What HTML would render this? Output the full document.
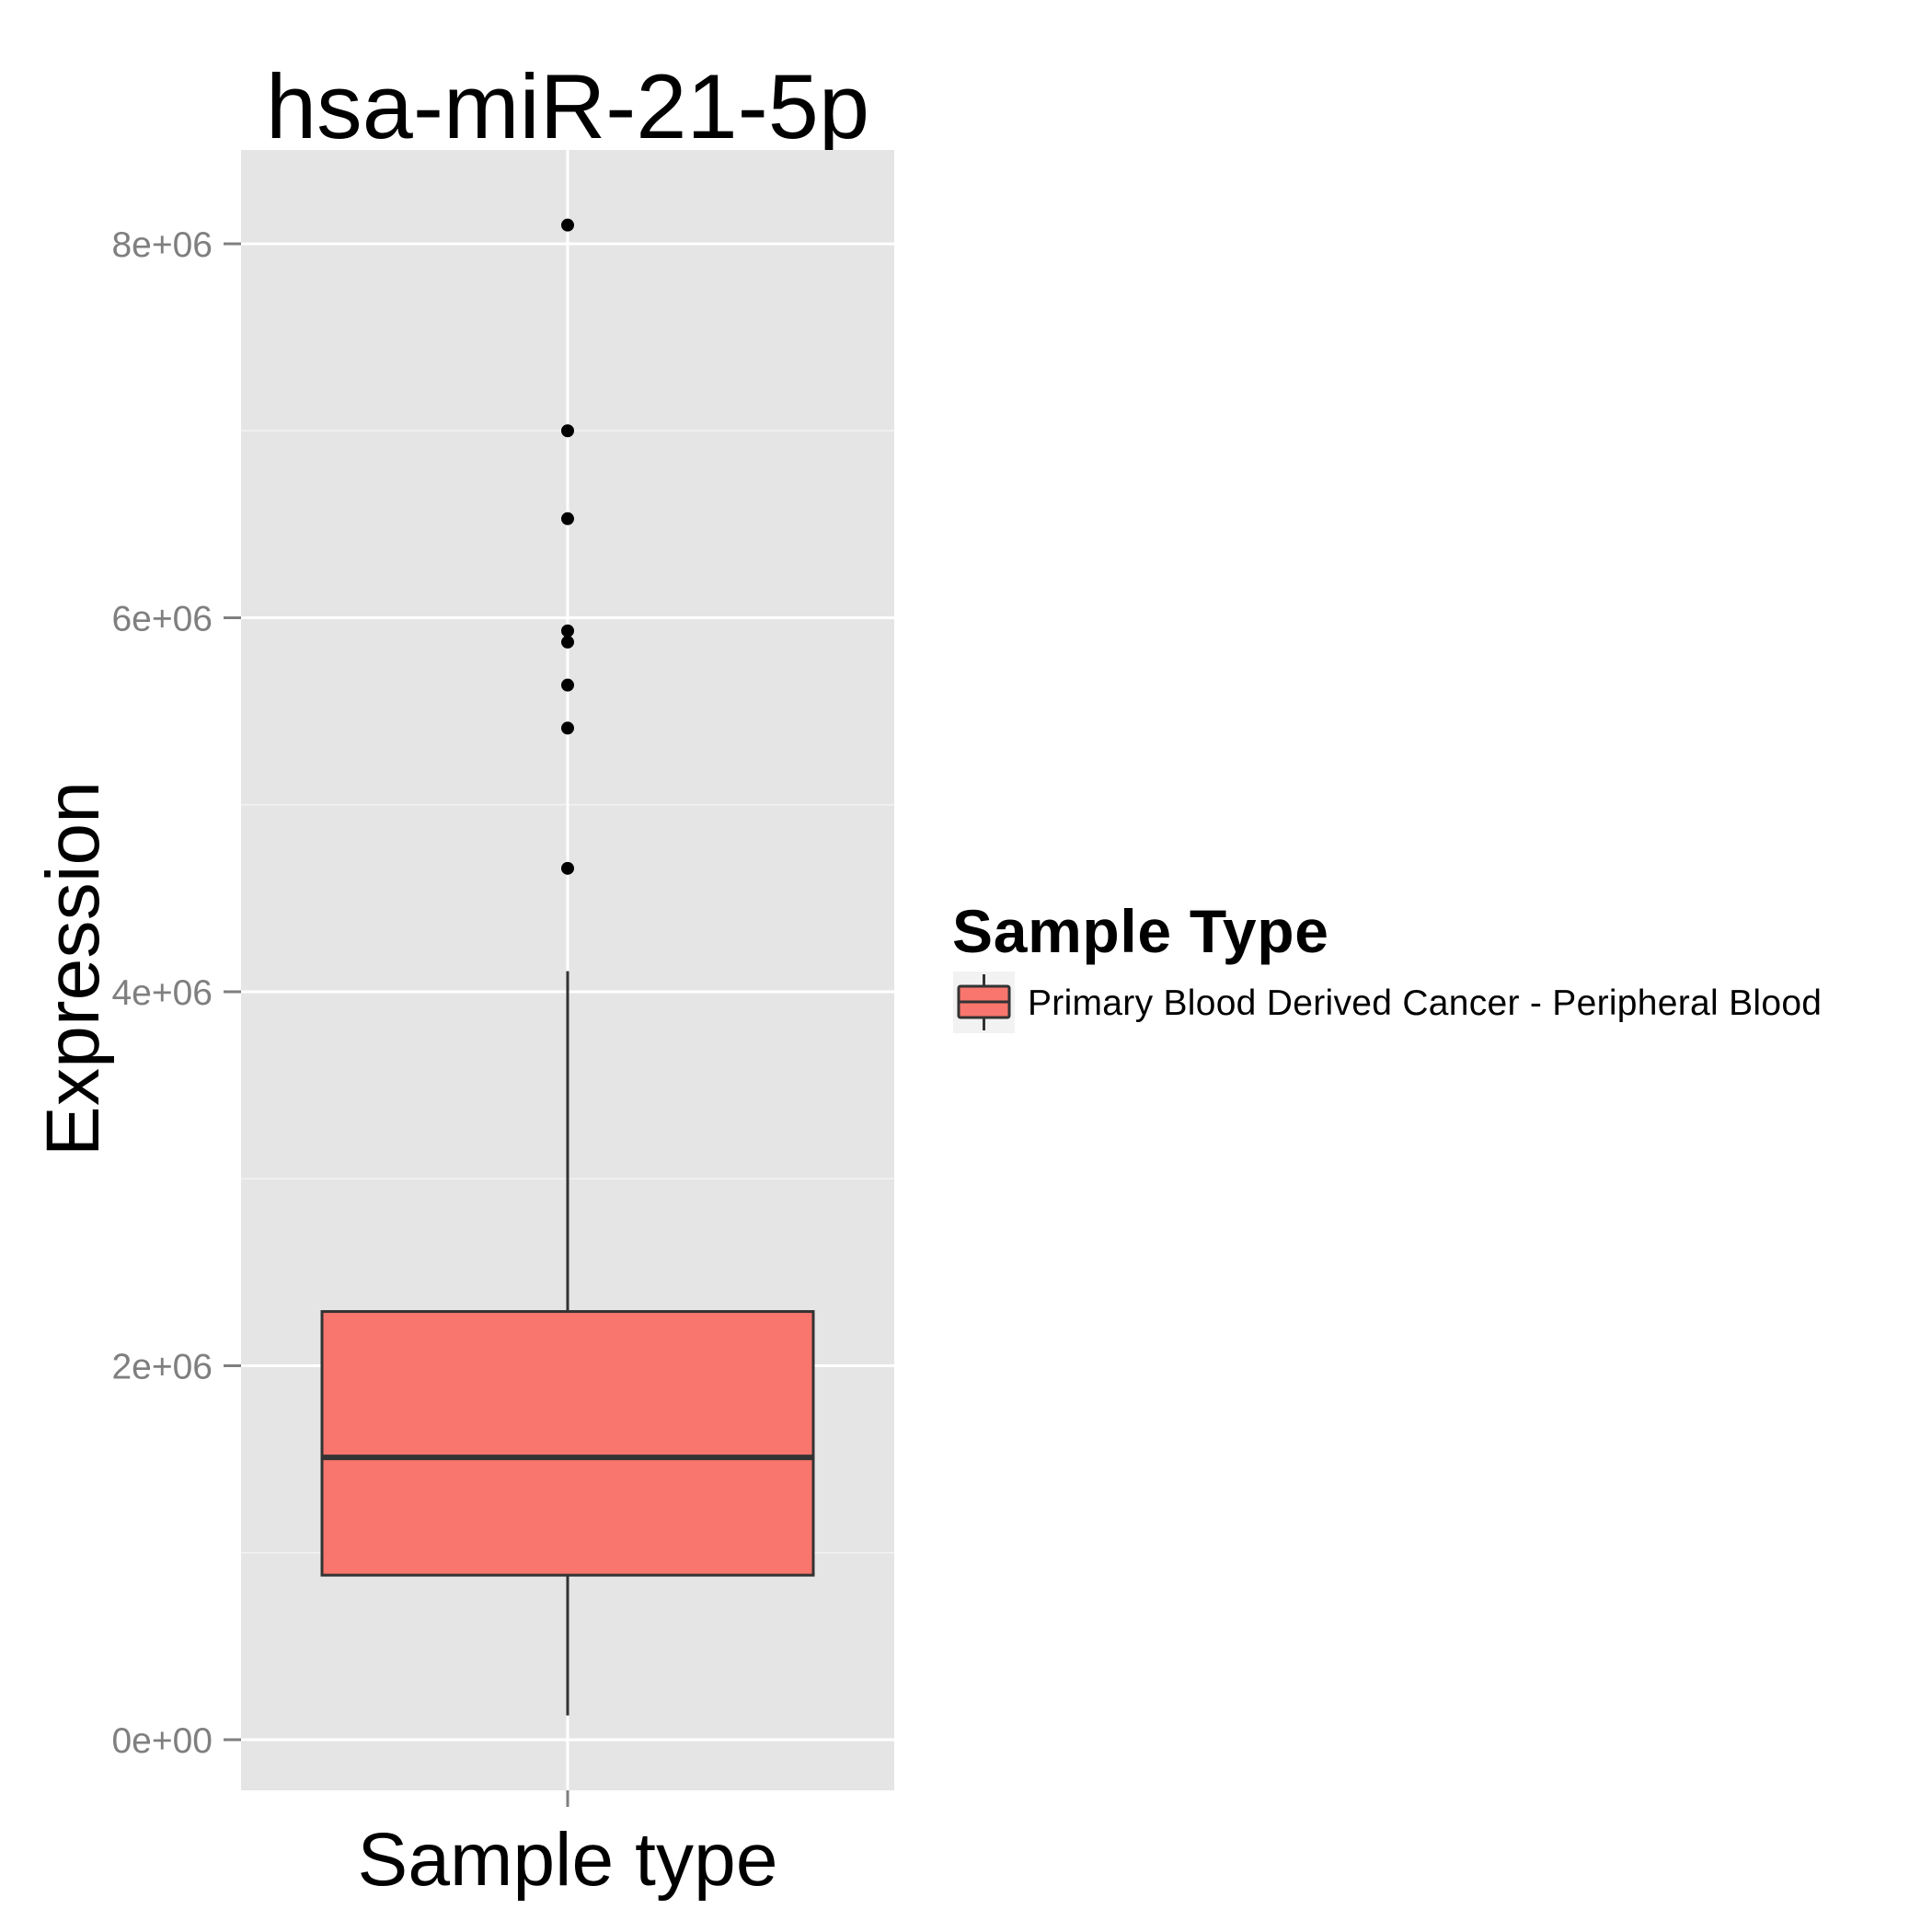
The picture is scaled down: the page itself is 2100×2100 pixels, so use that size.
<!DOCTYPE html>
<html><head><meta charset="utf-8"><style>html,body{margin:0;padding:0;background:#fff}svg{display:block}text{font-family:"Liberation Sans",sans-serif}</style></head>
<body>
<svg id="chart" width="2100" height="2100" viewBox="0 0 2100 2100">
<rect width="2100" height="2100" fill="#fff"/>
<text x="617" y="150" font-size="99" text-anchor="middle" textLength="656">hsa-miR-21-5p</text>
<rect x="262" y="163" width="710" height="1783" fill="#e5e5e5"/>
<g id="grid"></g>
<g id="marks"></g>
<g id="axes"></g>
<text transform="translate(107,1053) rotate(-90)" font-size="82" text-anchor="middle" textLength="408">Expression</text>
<text x="617" y="2049" font-size="82" text-anchor="middle" textLength="457">Sample type</text>
<g>
<text x="1035" y="1035" font-size="66" font-weight="bold" textLength="409">Sample Type</text>
<rect x="1036" y="1056" width="67" height="67" fill="#f2f2f2"/>
<line x1="1069.5" y1="1059" x2="1069.5" y2="1120" stroke="#333" stroke-width="3"/>
<rect x="1042" y="1072" width="55" height="34" rx="2" fill="#f8766d" stroke="#333" stroke-width="3"/>
<line x1="1042" y1="1089" x2="1097" y2="1089" stroke="#333" stroke-width="3"/>
<text x="1117" y="1103" font-size="39" textLength="863">Primary Blood Derived Cancer - Peripheral Blood</text>
</g>
</svg>
<script>
const categories = ["Primary Blood Derived Cancer - Peripheral Blood"];
const boxStats = [0.13e6, 0.88e6, 1.51e6, 2.29e6, 4.11e6]; // min, q1, median, q3, max whisker
const outliers = [8.1e6, 7.0e6, 6.53e6, 5.93e6, 5.87e6, 5.64e6, 5.41e6, 4.66e6];
const yTicks = [0, 2e6, 4e6, 6e6, 8e6];
const yTickLabels = ["0e+00", "2e+06", "4e+06", "6e+06", "8e+06"];
const yMinor = [1e6, 3e6, 5e6, 7e6];

const NS = "http://www.w3.org/2000/svg";
const px0 = 262, px1 = 972;
function y(v){ return 1891 - (v/8e6)*(1891-265); }
function xc(i){ const bw=(px1-px0)/categories.length; return px0 + bw*(i+0.5); }
function mk(tag, attrs, parent){ const e=document.createElementNS(NS,tag); for(const k in attrs) e.setAttribute(k,attrs[k]); parent.appendChild(e); return e; }
const grid=document.getElementById('grid'), marks=document.getElementById('marks'), axes=document.getElementById('axes');
yMinor.forEach(v=>{
  const l=mk('line',{x1:px0,x2:px1,y1:y(v),y2:y(v),stroke:'#f2f2f2','stroke-width':1.5},grid);
  
  
});
yTicks.forEach((v,i)=>{
  const l=mk('line',{x1:px0,x2:px1,y1:y(v),y2:y(v),stroke:'#fff','stroke-width':3},grid);
  
  
  const t=mk('line',{x1:243,x2:262,y1:y(v),y2:y(v),stroke:'#7f7f7f','stroke-width':3},axes);
  
  
  const tx=mk('text',{x:231,y:y(v)+14,'font-size':39,'text-anchor':'end',fill:'#7f7f7f'},axes);
  tx.textContent=yTickLabels[i];
  
  
});
categories.forEach((c,i)=>{
  const cx=xc(i);
  const vg=mk('line',{x1:cx,x2:cx,y1:163,y2:1946,stroke:'#fff','stroke-width':3},grid);
  
  
  const xt=mk('line',{x1:cx,x2:cx,y1:1946,y2:1964,stroke:'#7f7f7f','stroke-width':3},axes);
  
  
  const half=267;
  const w1=mk('line',{x1:cx,x2:cx,y1:y(boxStats[3]),y2:y(boxStats[4]),stroke:'#333','stroke-width':3},marks);
  
  
  const w2=mk('line',{x1:cx,x2:cx,y1:y(boxStats[0]),y2:y(boxStats[1]),stroke:'#333','stroke-width':3},marks);
  
  
  const b=mk('rect',{x:cx-half,y:y(boxStats[3]),width:half*2,height:y(boxStats[1])-y(boxStats[3]),fill:'#f8766d',stroke:'#333','stroke-width':3},marks);
  
  
  const m=mk('line',{x1:cx-half,x2:cx+half,y1:y(boxStats[2]),y2:y(boxStats[2]),stroke:'#333','stroke-width':6},marks);
  
  
  outliers.forEach(v=>{
    const p=mk('circle',{cx:cx,cy:y(v),r:7,fill:'#000'},marks);
    
    
  });
});
</script>
</body></html>
